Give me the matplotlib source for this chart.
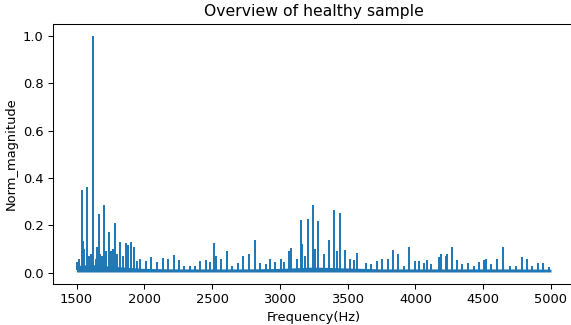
import matplotlib
matplotlib.use("Agg")
import matplotlib.pyplot as plt

# Peaks (frequency in Hz, normalised magnitude)
peak_freqs = [1500, 1520, 1543, 1548, 1558, 1580, 1590, 1605, 1622, 1640, 1651, 1663, 1675, 1690,
              1700, 1720, 1740, 1752, 1768, 1781, 1800, 1818, 1840, 1862, 1880, 1902, 1922,
              1945, 1968, 2010, 2049, 2096, 2135, 2177, 2218, 2258, 2295, 2336, 2372, 2410,
              2452, 2485, 2516, 2527, 2565, 2607, 2613, 2650, 2693, 2730, 2771, 2815, 2857,
              2900, 2926, 2965, 3005, 3030, 3068, 3081, 3123, 3155, 3160, 3185, 3204, 3241,
              3262, 3285, 3324, 3359, 3400, 3420, 3440, 3479, 3516, 3548, 3569, 3637, 3676,
              3714, 3756, 3796, 3835, 3874, 3913, 3955, 3995, 4030, 4060, 4085, 4116, 4174,
              4191, 4223, 4233, 4270, 4309, 4346, 4390, 4430, 4466, 4505, 4523, 4561, 4604,
              4648, 4700, 4740, 4783, 4822, 4862, 4906, 4943, 4982]
peak_mags = [0.044, 0.06, 0.35, 0.135, 0.10, 0.36, 0.07, 0.08, 1.0, 0.06, 0.107, 0.25, 0.08, 0.07,
             0.284, 0.09, 0.174, 0.09, 0.10, 0.212, 0.08, 0.131, 0.07, 0.126, 0.119, 0.13, 0.11,
             0.05, 0.059, 0.05, 0.068, 0.047, 0.064, 0.058, 0.075, 0.053, 0.03, 0.03, 0.03, 0.05,
             0.054, 0.045, 0.126, 0.07, 0.06, 0.09, 0.092, 0.03, 0.04, 0.07, 0.08, 0.137, 0.04,
             0.035, 0.06, 0.045, 0.06, 0.045, 0.09, 0.105, 0.06, 0.223, 0.12, 0.07, 0.227, 0.284,
             0.10, 0.217, 0.08, 0.138, 0.265, 0.09, 0.251, 0.096, 0.06, 0.055, 0.083, 0.04, 0.035,
             0.05, 0.06, 0.06, 0.097, 0.08, 0.03, 0.107, 0.05, 0.05, 0.04, 0.055, 0.035, 0.065,
             0.079, 0.07, 0.077, 0.107, 0.055, 0.035, 0.04, 0.03, 0.045, 0.052, 0.06, 0.038, 0.06,
             0.11, 0.03, 0.03, 0.065, 0.057, 0.03, 0.04, 0.04, 0.025]

# Noise-floor band
band_freqs = [1500, 1600, 1700, 1800, 1900, 2000, 2250, 2500, 2750, 3000, 3250, 3500, 3750,
              4000, 4250, 4500, 4750, 5000]
band_low = [0.003] * 18
band_high = [0.03, 0.035, 0.03, 0.026, 0.022, 0.018, 0.016, 0.016, 0.016, 0.018, 0.024, 0.02,
             0.016, 0.016, 0.016, 0.016, 0.016, 0.015]
peak_base = 0.01

color = "#1f77b4"
DPI = 94
fig = plt.figure(figsize=(571 / DPI, 325 / DPI), dpi=DPI)
ax = fig.add_axes([52.8 / 571, 41.2 / 325, 521.9 / 571, 259.6 / 325])
ax.fill_between(band_freqs, band_low, band_high, color=color, lw=0)
ax.vlines(peak_freqs, peak_base, peak_mags, color=color, lw=1.5)
ax.set_title("Overview of healthy sample")
ax.set_xlabel("Frequency(Hz)")
ax.set_ylabel("Norm_magnitude")
ax.set_xticks([1500, 2000, 2500, 3000, 3500, 4000, 4500, 5000])
ax.set_yticks([0.0, 0.2, 0.4, 0.6, 0.8, 1.0])
fig.savefig("out.png", dpi=DPI)
